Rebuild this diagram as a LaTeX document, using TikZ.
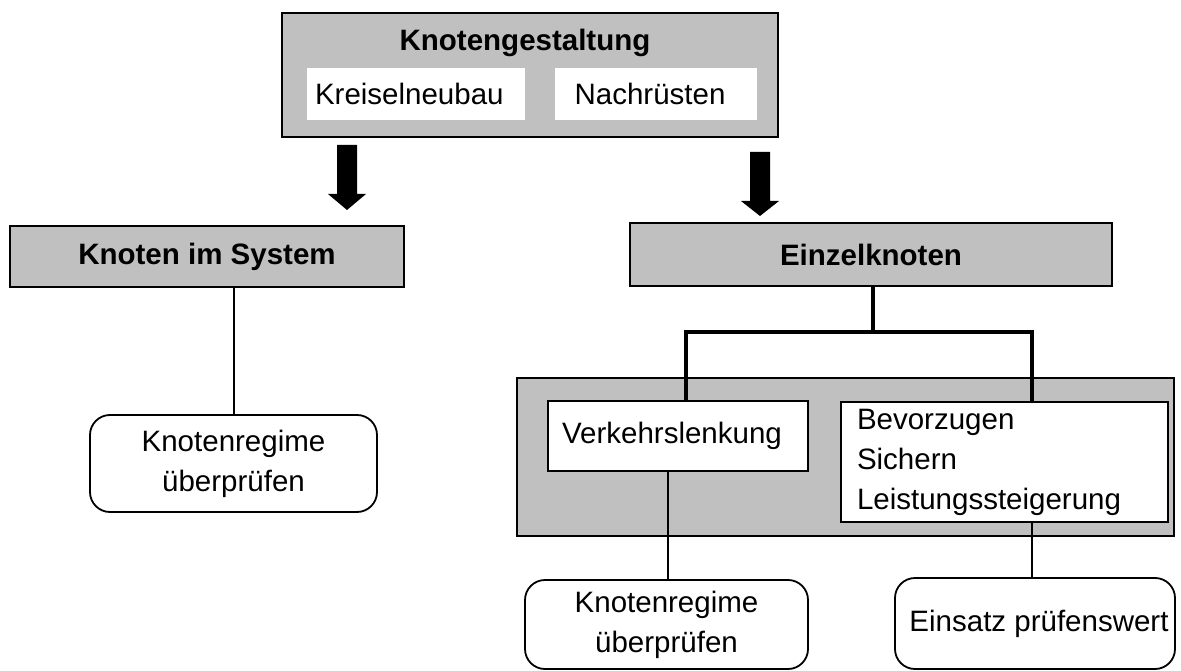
\documentclass[tikz,border=0pt]{standalone}
\usepackage{fontspec}
\setmainfont{Liberation Sans}
\definecolor{boxgray}{HTML}{C0C0C0}
\begin{document}
\begin{tikzpicture}[x=1pt,y=-1pt,
  every node/.style={inner sep=0pt,font=\fontsize{29.5}{40}\selectfont},
  graybox/.style={draw=black,line width=1.8pt,fill=boxgray,rectangle},
  whitebox/.style={draw=black,line width=1.8pt,fill=white,rectangle},
  plainbox/.style={fill=white,rectangle},
  roundbox/.style={draw=black,line width=1.8pt,fill=white,rounded corners=20pt,align=center},
  boldtext/.style={font=\fontsize{29.5}{40}\selectfont\bfseries},
  link/.style={line width=2pt},
  trunk/.style={line width=3.6pt},
  blockarrow/.style={fill=black}
]
\useasboundingbox (0,0) rectangle (1181,671);

% top box with its two white fields
\node[graybox,minimum width=496,minimum height=124] (top) at (530,75) {};
\node[boldtext] (toptitle) at (525,43) {Knotengestaltung};
\node[plainbox,minimum width=218,minimum height=52,text width=202,inner xsep=8pt,align=left] (kreisel) at (416,94) {Kreiselneubau};
\node[plainbox,minimum width=202,minimum height=52] (nach) at (656,94) {\hspace*{-12pt}Nachrüsten};

% left branch
\node[graybox,boldtext,minimum width=394,minimum height=61] (sys) at (207,256.5) {Knoten im System};
\node[roundbox,minimum width=287,minimum height=97] (reg1) at (233.5,463.5) {Knotenregime\\überprüfen};
\draw[link] (reg1.north) -- (reg1.north |- sys.south);

% right branch
\node[graybox,boldtext,minimum width=482,minimum height=63] (ein) at (871,254.5) {Einzelknoten};
\node[graybox,minimum width=657,minimum height=158] (group) at (845.5,457) {};
\node[whitebox,minimum width=260,minimum height=70] (verk) at (678,436) {\hspace*{-12pt}Verkehrslenkung};
\node[whitebox,minimum width=327,minimum height=120,text width=295,inner xsep=16pt,align=left] (bev) at (1004.5,462) {Bevorzugen\\Sichern\\Leistungssteigerung};
\node[roundbox,minimum width=283,minimum height=89] (reg2) at (666.5,624.5) {Knotenregime\\überprüfen};
\node[roundbox,minimum width=280,minimum height=91] (eins) at (1035,623.5) {\hspace*{8pt}Einsatz prüfenswert};

% tree below Einzelknoten
\coordinate (fork) at (873,332);
\coordinate (forkL) at (686,332);
\coordinate (forkR) at (1032,332);
\draw[trunk] (ein.south -| fork) -- (fork);
\draw[trunk] (verk.north -| forkL) -- (forkL) -- (forkR) -- (bev.north -| forkR);
\draw[link] (verk.south -| 668,0) -- (reg2.north -| 668,0);
\draw[link] (bev.south -| 1032,0) -- (eins.north -| 1032,0);

% block arrows
\coordinate (tipL) at (347,210);
\coordinate (tipR) at (760,216);
\fill[blockarrow] (tipL) -- ++(19,-16) -- ++(-9,0) -- ++(0,-49) -- ++(-20,0) -- ++(0,49) -- ++(-9,0) -- cycle;
\fill[blockarrow] (tipR) -- ++(19,-15) -- ++(-9,0) -- ++(0,-49) -- ++(-20,0) -- ++(0,49) -- ++(-9,0) -- cycle;
\end{tikzpicture}
\end{document}
